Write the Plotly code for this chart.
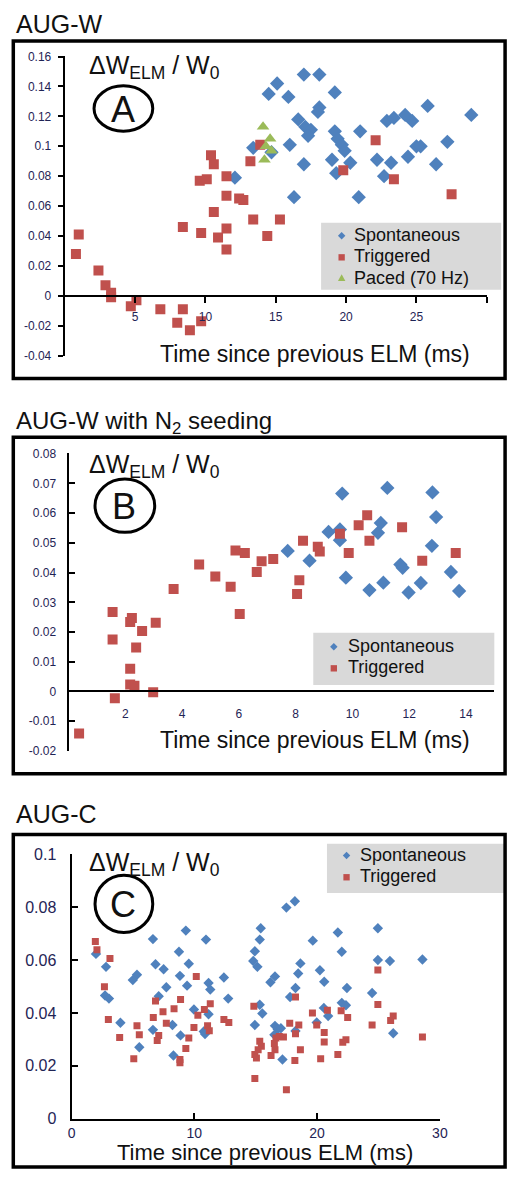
import plotly.graph_objects as go

# ---------------- data ----------------
# Panel A: AUG-W
A_spont_t = [17.0, 18.1, 15.1, 14.5, 15.9, 19.2, 18.1, 18.0, 16.6, 17.1, 17.5, 17.3, 19.2, 19.4, 19.7, 19.9,
             21.0, 22.9, 23.4, 24.2, 24.7, 25.8, 28.9, 16.0, 13.4, 14.7, 17.0, 19.0, 20.3, 19.3, 22.2, 23.2,
             22.7, 24.4, 25.0, 25.3, 27.2, 26.4, 16.3, 20.9, 12.1]
A_spont_v = [0.148, 0.148, 0.142, 0.135, 0.133, 0.136, 0.126, 0.123, 0.118, 0.113, 0.111, 0.107, 0.110, 0.105,
             0.101, 0.097, 0.110, 0.117, 0.119, 0.121, 0.117, 0.127, 0.121, 0.101, 0.099, 0.096, 0.088, 0.091,
             0.089, 0.082, 0.091, 0.089, 0.080, 0.093, 0.100, 0.100, 0.103, 0.088, 0.066, 0.066, 0.079]
A_trig_t = [22.1, 13.9, 13.2, 19.8, 23.4, 27.5, 13.4, 15.3, 10.4, 10.6, 11.5, 9.6, 10.1, 11.5, 12.4, 12.7,
            10.6, 8.4, 9.7, 10.9, 11.5, 11.5, 1.0, 0.8, 2.4, 2.9, 3.3, 3.3, 5.1, 4.7, 6.8, 8.4, 8.0, 8.9,
            9.7, 14.4]
A_trig_v = [0.104, 0.101, 0.090, 0.084, 0.078, 0.068, 0.051, 0.051, 0.094, 0.088, 0.080, 0.077, 0.078, 0.067,
            0.065, 0.064, 0.056, 0.046, 0.042, 0.039, 0.045, 0.031, 0.041, 0.028, 0.017, 0.007, 0.002, -0.001,
            -0.003, -0.007, -0.009, -0.009, -0.018, -0.023, -0.017, 0.040]
A_paced_t = [14.1, 14.6, 14.3, 14.7, 14.2]
A_paced_v = [0.113, 0.105, 0.100, 0.097, 0.091]

# Panel B: AUG-W with N2 seeding
B_spont_t = [9.64, 11.23, 12.82, 12.95, 11.0, 10.9, 9.16, 9.56, 9.56, 7.72, 8.49, 12.8, 11.69, 11.77, 13.47,
             9.77, 10.6, 11.09, 11.98, 12.41, 13.76]
B_spont_v = [0.0666, 0.0685, 0.0670, 0.0587, 0.0567, 0.0534, 0.0537, 0.0545, 0.0509, 0.0473, 0.0440, 0.0490,
             0.0427, 0.0416, 0.0402, 0.0383, 0.0341, 0.0366, 0.0333, 0.0365, 0.0338]
B_trig_t = [10.52, 10.22, 11.75, 9.56, 10.6, 9.87, 8.26, 8.78, 8.85, 13.64, 12.46, 8.13, 8.05, 7.21, 6.8,
            6.63, 5.88, 6.21, 4.6, 5.17, 5.71, 3.7, 6.03, 1.55, 1.55, 2.23, 2.17, 2.59, 3.07, 2.38, 2.17,
            2.17, 2.32, 2.98, 1.63, 0.37]
B_trig_v = [0.0593, 0.0559, 0.0553, 0.0531, 0.0507, 0.0466, 0.0507, 0.0487, 0.0471, 0.0466, 0.0440, 0.0374,
            0.0328, 0.0446, 0.0438, 0.0402, 0.0474, 0.0466, 0.0427, 0.0387, 0.0352, 0.0345, 0.0261, 0.0267,
            0.0175, 0.0247, 0.0234, 0.0203, 0.0231, 0.0148, 0.0076, 0.0023, 0.0019, -0.0003, -0.0023, -0.0142]

# Panel C: AUG-C
C_spont_t = [9.31, 6.63, 10.95, 8.75, 1.99, 9.55, 6.84, 7.5, 2.81, 5.33, 4.99, 8.83, 11.16, 12.41, 7.72, 9.41,
             11.3, 2.73, 3.05, 7.1, 12.76, 3.98, 9.97, 11.16, 8.22, 6.63, 8.88, 10.77, 10.87, 5.52, 8.3, 14.93,
             18.19, 17.5, 15.41, 15.33, 14.93, 14.8, 15.14, 24.95, 21.69, 19.65, 22.01, 18.64, 18.46, 24.95,
             25.93, 28.58, 20.23, 20.58, 16.57, 16.2, 18.24, 22.43, 24.48, 17.8, 15.33, 15.54, 16.57, 16.79,
             17.05, 16.52, 18.24, 19.97, 20.55, 20.9, 22.01, 22.35, 26.2, 17.18]
C_spont_v = [0.0711, 0.0679, 0.0677, 0.0631, 0.0623, 0.0586, 0.0584, 0.0565, 0.0574, 0.0544, 0.0524, 0.0540,
             0.0513, 0.0534, 0.0497, 0.0503, 0.0488, 0.0466, 0.0454, 0.0463, 0.0454, 0.0363, 0.0413, 0.0395,
             0.0354, 0.0336, 0.0315, 0.0330, 0.0320, 0.0270, 0.0239, 0.0354, 0.0822, 0.0798, 0.0720, 0.0677,
             0.0633, 0.0596, 0.0574, 0.0720, 0.0704, 0.0673, 0.0631, 0.0587, 0.0549, 0.0600, 0.0596, 0.0602,
             0.0561, 0.0518, 0.0538, 0.0516, 0.0494, 0.0494, 0.0475, 0.0460, 0.0431, 0.0398, 0.0351, 0.0338,
             0.0342, 0.0317, 0.0332, 0.0364, 0.0419, 0.0388, 0.0438, 0.0429, 0.0323, 0.0224]
C_trig_t = [1.94, 2.07, 3.13, 2.68, 10.16, 3.0, 3.92, 5.07, 5.33, 5.52, 6.84, 6.66, 7.45, 7.1, 6.98, 7.72, 8.35,
            8.88, 8.83, 8.83, 9.31, 9.55, 9.97, 10.29, 10.82, 11.3, 11.08, 11.22, 12.41, 12.81, 14.85, 14.93,
            15.06, 14.93, 24.95, 18.24, 24.95, 19.62, 20.84, 21.96, 22.49, 26.2, 25.99, 24.48, 17.77, 18.51,
            18.24, 19.97, 20.58, 20.58, 22.09, 22.35, 28.58, 15.33, 15.46, 15.2, 16.65, 16.92, 17.26, 16.52,
            16.57, 16.25, 18.64, 18.19, 20.29, 21.69, 17.5]
C_trig_v = [0.0670, 0.0639, 0.0606, 0.0499, 0.0538, 0.0375, 0.0307, 0.0227, 0.0351, 0.0317, 0.0445, 0.0383,
            0.0404, 0.0315, 0.0296, 0.0361, 0.0416, 0.0451, 0.0212, 0.0224, 0.0265, 0.0305, 0.0345, 0.0391,
            0.0413, 0.0435, 0.0351, 0.0333, 0.0375, 0.0364, 0.0425, 0.0243, 0.0230, 0.0152, 0.0562, 0.0460,
            0.0432, 0.0400, 0.0410, 0.0408, 0.0383, 0.0388, 0.0371, 0.0354, 0.0361, 0.0354, 0.0321, 0.0354,
            0.0326, 0.0290, 0.0289, 0.0299, 0.0309, 0.0293, 0.0274, 0.0261, 0.0305, 0.0311, 0.0309, 0.0284,
            0.0261, 0.0239, 0.0261, 0.0220, 0.0227, 0.0243, 0.0110]

# tick labels
A_yticks = [-0.04, -0.02, 0, 0.02, 0.04, 0.06, 0.08, 0.1, 0.12, 0.14, 0.16]
A_ylabels = ["-0.04", "-0.02", "0", "0.02", "0.04", "0.06", "0.08", "0.1", "0.12", "0.14", "0.16"]
A_xticks = [5, 10, 15, 20, 25, 30]
A_xlabels = ["5", "10", "15", "20", "25", " "]
B_yticks = [-0.02, -0.01, 0, 0.01, 0.02, 0.03, 0.04, 0.05, 0.06, 0.07, 0.08]
B_ylabels = ["-0.02", "-0.01", "0", "0.01", "0.02", "0.03", "0.04", "0.05", "0.06", "0.07", "0.08"]
B_xticks = [2, 4, 6, 8, 10, 12, 14]
B_xlabels = ["2", "4", "6", "8", "10", "12", "14"]
C_yticks = [0, 0.02, 0.04, 0.06, 0.08, 0.1]
C_ylabels = ["0", "0.02", "0.04", "0.06", "0.08", "0.1"]
C_xticks = [0, 10, 20, 30]
C_xlabels = ["0", "10", "20", "30"]

# ---------------- styling ----------------
W, H = 516, 1178
def fx(p):
    return p / W
def fy(p):
    return 1 - p / H

FONT = "Liberation Sans, Arial, sans-serif"
BLUE, RED, GREEN = "#4f81bd", "#c0504d", "#9bbb59"
TXT = "#111111"
TICK = "#1f2455"
LEGBG = "#d9d9d9"

fig = go.Figure()

def add(t, v, name, sym, size, color, ax):
    fig.add_trace(go.Scatter(x=t, y=v, mode="markers", name=name, showlegend=False,
                             marker=dict(symbol=sym, size=size, color=color, line=dict(width=0)),
                             xaxis="x" + ax, yaxis="y" + ax))

add(A_spont_t, A_spont_v, "Spontaneous", "diamond", 11, BLUE, "")
add(A_trig_t, A_trig_v, "Triggered", "square", 10, RED, "")
add(A_paced_t, A_paced_v, "Paced (70 Hz)", "triangle-up", 11, GREEN, "")
add(B_spont_t, B_spont_v, "Spontaneous", "diamond", 11, BLUE, "2")
add(B_trig_t, B_trig_v, "Triggered", "square", 10, RED, "2")
add(C_spont_t, C_spont_v, "Spontaneous", "diamond", 8, BLUE, "3")
add(C_trig_t, C_trig_v, "Triggered", "square", 7, RED, "3")

def axis(**kw):
    d = dict(showgrid=False, zeroline=False, showline=True, linecolor="black", linewidth=2,
             tickcolor="black", tickwidth=2, tickmode="array")
    d.update(kw)
    return d

fig.update_layout(
    width=W, height=H, margin=dict(l=0, r=0, t=0, b=0),
    paper_bgcolor="white", plot_bgcolor="rgba(0,0,0,0)",
    font=dict(family=FONT, color=TXT), showlegend=False,
    # Panel A
    xaxis=axis(domain=[fx(62), fx(494)], range=[0, 30.05], anchor="free", position=fy(292),
               tickvals=A_xticks, ticktext=A_xlabels, ticks="outside", ticklen=6,
               ticklabelstandoff=4, tickfont=dict(family=FONT, size=12, color=TICK)),
    yaxis=axis(domain=[fy(353), fy(49)], range=[-0.0402, 0.1602], anchor="x",
               tickvals=A_yticks, ticktext=A_ylabels, ticks="outside", ticklen=5,
               ticklabelstandoff=4, tickfont=dict(family=FONT, size=12, color=TICK)),
    # Panel B
    xaxis2=axis(domain=[fx(66), fx(501)], range=[0, 15], anchor="free", position=fy(693),
                tickvals=B_xticks, ticktext=B_xlabels, ticks="",
                ticklabelstandoff=12, tickfont=dict(family=FONT, size=12, color=TICK)),
    yaxis2=axis(domain=[fy(754), fy(452)], range=[-0.0201, 0.0801], anchor="x2",
                tickvals=B_yticks, ticktext=B_ylabels, ticks="inside", ticklen=6,
                ticklabelstandoff=8, tickfont=dict(family=FONT, size=12, color=TICK)),
    # Panel C
    xaxis3=axis(domain=[fx(69), fx(446)], range=[0, 30.05], anchor="y3",
                tickvals=C_xticks, ticktext=C_xlabels, ticks="inside", ticklen=6,
                ticklabelstandoff=0, tickfont=dict(family=FONT, size=14, color=TICK)),
    yaxis3=axis(domain=[fy(1127), fy(858)], range=[0, 0.1002], anchor="x3",
                tickvals=C_yticks, ticktext=C_ylabels, ticks="inside", ticklen=6,
                ticklabelstandoff=10, tickfont=dict(family=FONT, size=16, color=TICK)),
)

# frames, circles and legend boxes
shapes = []
for (t, b) in [(33.5, 376), (435.5, 777), (838.5, 1176)]:
    shapes.append(dict(type="rect", xref="paper", yref="paper", x0=fx(9.5), x1=fx(512),
                       y0=fy(b), y1=fy(t), line=dict(color="black", width=3.5)))
for (x0, x1, y0, y1) in [(92, 152, 79, 125), (93, 154, 478, 532), (93, 152, 880, 938)]:
    shapes.append(dict(type="circle", xref="paper", yref="paper", x0=fx(x0), x1=fx(x1),
                       y0=fy(y1), y1=fy(y0), line=dict(color="black", width=3)))

ann = []
def text(s, x, y, size, xanchor="left"):
    ann.append(dict(text=s, xref="paper", yref="paper", x=fx(x), y=fy(y), xanchor=xanchor,
                    yanchor="middle", showarrow=False, font=dict(family=FONT, size=size, color=TXT)))

# legend boxes (gray background, small symbols, labels)
def legend_box(x0, x1, y0, y1):
    shapes.append(dict(type="rect", xref="paper", yref="paper", x0=fx(x0), x1=fx(x1),
                       y0=fy(y1), y1=fy(y0), fillcolor=LEGBG, line=dict(width=0), layer="below"))

def sym(kind, cx, cy, color, r=3.8):
    if kind == "diamond":
        path = "M {} {} L {} {} L {} {} L {} {} Z".format(fx(cx - r), fy(cy), fx(cx), fy(cy - r),
                                                          fx(cx + r), fy(cy), fx(cx), fy(cy + r))
    elif kind == "square":
        r = r * 0.85
        path = "M {} {} L {} {} L {} {} L {} {} Z".format(fx(cx - r), fy(cy - r), fx(cx + r), fy(cy - r),
                                                          fx(cx + r), fy(cy + r), fx(cx - r), fy(cy + r))
    else:
        path = "M {} {} L {} {} L {} {} Z".format(fx(cx - r), fy(cy + r * 0.8), fx(cx + r), fy(cy + r * 0.8),
                                                   fx(cx), fy(cy - r))
    shapes.append(dict(type="path", xref="paper", yref="paper", path=path, fillcolor=color,
                       line=dict(width=0)))

LEGSIZE = 18
legend_box(324, 508, 218, 286)
sym("diamond", 345, 231, BLUE)
sym("square", 345, 253, RED)
sym("triangle", 345, 274, GREEN)
text("Spontaneous", 356, 230, LEGSIZE)
text("Triggered", 356, 252, LEGSIZE)
text("Paced (70 Hz)", 356, 274, LEGSIZE)

legend_box(316, 501, 634, 687)
sym("diamond", 337, 648, BLUE)
sym("square", 337, 670, RED)
text("Spontaneous", 349, 647, LEGSIZE)
text("Triggered", 349, 669, LEGSIZE)

legend_box(330, 513, 848, 898)
sym("diamond", 350, 860, BLUE)
sym("square", 350, 882, RED)
text("Spontaneous", 362, 859, LEGSIZE)
text("Triggered", 362, 881, LEGSIZE)

fig.update_layout(shapes=shapes)

text("AUG-W", 10, 16, 25)
text("AUG-W with N<sub>2</sub> seeding", 10, 421, 24)
text("AUG-C", 10, 818, 25)
for y in [60, 465, 869]:
    text("ΔW<sub>ELM</sub> / W<sub>0</sub>", 85, y, 25)
text("A", 122, 103, 36, "center")
text("B", 123, 506, 36, "center")
text("C", 122, 910, 36, "center")
text("Time since previous ELM (ms)", 318, 351, 23, "center")
text("Time since previous ELM (ms)", 318, 743, 23, "center")
text("Time since previous ELM (ms)", 267, 1161, 22, "center")
fig.update_layout(annotations=ann)

fig.write_html("out.html")
